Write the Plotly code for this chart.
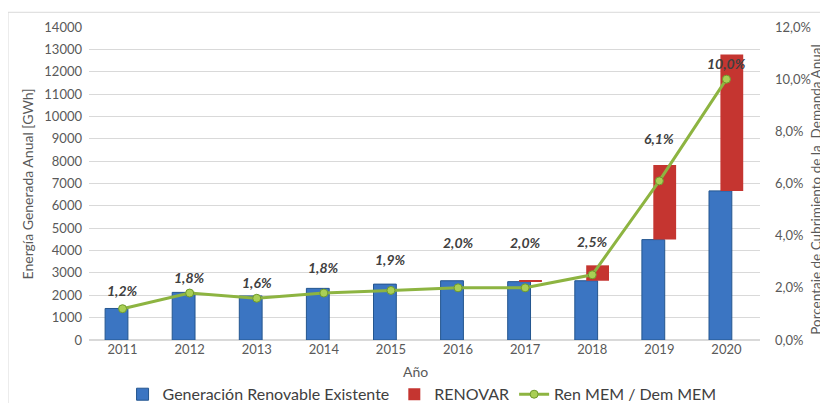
import plotly.graph_objects as go

anios = ["2011", "2012", "2013", "2014", "2015", "2016", "2017", "2018", "2019", "2020"]
gen_existente = [1410, 2130, 1970, 2310, 2500, 2650, 2610, 2650, 4490, 6670]
renovar = [0, 0, 0, 0, 0, 0, 70, 690, 3340, 6100]
ren_dem_pct = [1.2, 1.8, 1.6, 1.8, 1.9, 2.0, 2.0, 2.5, 6.1, 10.0]
etiquetas = ["1,2%", "1,8%", "1,6%", "1,8%", "1,9%", "2,0%", "2,0%", "2,5%", "6,1%", "10,0%"]
desplaz_etiqueta = [18, 16, 16, 26, 31, 45, 45, 33, 42, 16]

FONT = "Lato"
GRIS = "#595959"

fig = go.Figure()
fig.add_trace(go.Bar(
    x=anios, y=gen_existente, name="Generación Renovable Existente",
    marker=dict(color="#3b75c2", line=dict(color="#24568f", width=1)),
    width=0.34, offset=-0.26,
))
fig.add_trace(go.Bar(
    x=anios, y=renovar, base=gen_existente, name="RENOVAR",
    marker=dict(color="#c53530", line=dict(color="#8a1c1a", width=0)),
    width=0.34, offset=-0.09,
))
fig.add_trace(go.Scatter(
    x=anios, y=ren_dem_pct, name="Ren MEM / Dem MEM", yaxis="y2",
    mode="lines+markers",
    line=dict(color="#8db441", width=3),
    marker=dict(size=8, color="#a9cf55", line=dict(color="#6f9a2c", width=1)),
))

# category axis: annotations positioned by category index
for i, (v, t, dy) in enumerate(zip(ren_dem_pct, etiquetas, desplaz_etiqueta)):
    fig.add_annotation(
        x=i, y=v, xref="x", yref="y2", text=f"<b><i>{t}</i></b>", showarrow=False,
        yshift=dy, font=dict(family=FONT, size=14, color="#404040"),
    )

fig.add_annotation(text="Año", x=0.486, y=-0.102, xref="paper", yref="paper",
                   showarrow=False, xanchor="center", yanchor="middle",
                   font=dict(family=FONT, size=14, color=GRIS))
fig.add_annotation(text="Energía Generada Anual [GWh]", x=-0.091, y=0.5, xref="paper", yref="paper",
                   textangle=-90, showarrow=False, xanchor="center", yanchor="middle",
                   font=dict(family=FONT, size=14, color=GRIS))
fig.add_annotation(text="Porcentaje de Cubrimiento de la  Demanda Anual", x=1.083, y=0.479,
                   xref="paper", yref="paper", textangle=-90, showarrow=False,
                   xanchor="center", yanchor="middle",
                   font=dict(family=FONT, size=13.5, color=GRIS))

fig.add_shape(type="rect", xref="paper", yref="paper", x0=-0.1207, x1=1.2, y0=-0.3, y1=1.047,
              line=dict(color="#d9d9d9", width=1), layer="below")

# the page adds an 8px body margin, so the figure is sized to fit the 828x403 window
fig.update_layout(
    width=820, height=395,
    margin=dict(l=81, r=68, t=19, b=63, autoexpand=False),
    plot_bgcolor="white", paper_bgcolor="white",
    barmode="overlay", separators=",.",
    font=dict(family=FONT, size=13, color=GRIS),
    xaxis=dict(type="category", range=[-0.5, 9.5], showgrid=False, ticks="",
               showline=False, automargin=False, tickfont=dict(size=13, color=GRIS)),
    yaxis=dict(range=[0, 14000], dtick=1000, tickformat="d", showgrid=True,
               gridcolor="#d9d9d9", zeroline=True, zerolinecolor="#d9d9d9", automargin=False,
               tickfont=dict(size=13, color=GRIS), ticklabelstandoff=6),
    yaxis2=dict(range=[0, 12], dtick=2, tickformat=".1f", ticksuffix="%",
                overlaying="y", side="right", showgrid=False, zeroline=False, automargin=False,
                tickfont=dict(size=13, color=GRIS), ticklabelstandoff=14),
    showlegend=True,
    legend=dict(orientation="h", x=0.05, xanchor="left", yref="container", y=0.022,
                yanchor="middle", font=dict(family=FONT, size=16, color="#404040"),
                traceorder="normal"),
)

fig.write_html("out.html")
